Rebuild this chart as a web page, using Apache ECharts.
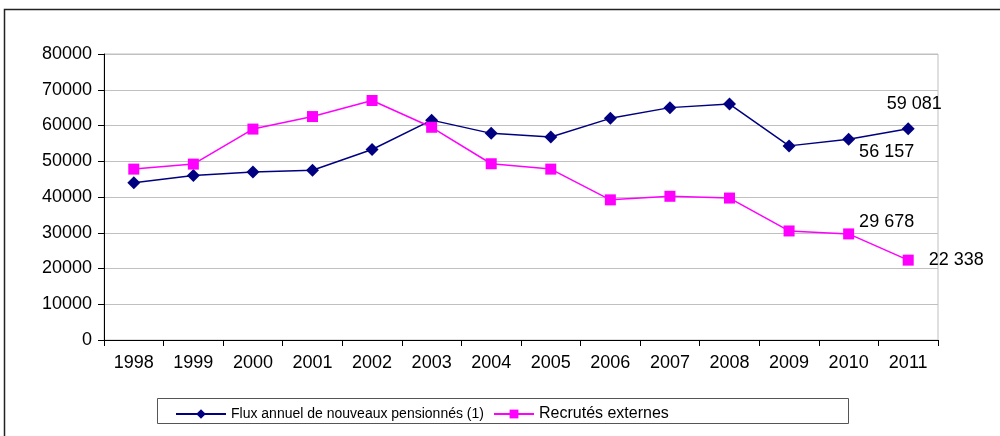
<!DOCTYPE html>
<html>
<head>
<meta charset="utf-8">
<script src="https://cdn.jsdelivr.net/npm/echarts@6/dist/echarts.min.js"></script>
<style>
  html, body { margin: 0; padding: 0; background: #fff; }
  #chart { width: 1000px; height: 436px; }
</style>
</head>
<body>
<div id="chart"></div>
<script>
const years = ['1998', '1999', '2000', '2001', '2002', '2003', '2004', '2005', '2006', '2007', '2008', '2009', '2010', '2011']
const fluxPensionnes = [44000, 46000, 47000, 47500, 53300, 61500, 57800, 56800, 62000, 65000, 66000, 54300, 56157, 59081]
const recrutesExternes = [47800, 49200, 59000, 62500, 67000, 59500, 49300, 47800, 39200, 40200, 39700, 30500, 29678, 22338]
const seriesNames = ['Flux annuel de nouveaux pensionnés (1)', 'Recrutés externes']

const fmt = v => String(v).replace(/\B(?=(\d{3})+(?!\d))/g, ' ')

// étiquettes seulement sur les deux derniers points (offsets relatifs au point)
const labelled = (values, offsets) => values.map((v, i) => {
  const off = offsets[i - (values.length - 2)]
  if (!off) return v
  return {
    value: v,
    label: {
      show: true,
      position: 'inside',
      offset: off,
      formatter: p => fmt(p.value),
      fontSize: 18,
      color: '#000',
      fontFamily: 'Liberation Sans'
    }
  }
})

const chart = echarts.init(document.getElementById('chart'))

chart.setOption({
  animation: false,
  textStyle: { fontFamily: 'Liberation Sans' },
  graphic: [
    {
      type: 'rect',
      shape: { x: 4.5, y: 9.5, width: 1000, height: 440 },
      style: { fill: 'none', stroke: '#222', lineWidth: 1.5 },
      silent: true
    },
    {
      type: 'rect',
      shape: { x: 157.5, y: 398.5, width: 691, height: 25 },
      style: { fill: 'none', stroke: '#555', lineWidth: 1 },
      silent: true
    }
  ],
  grid: {
    left: 104,
    right: 62,
    top: 54,
    bottom: 96,
    show: true,
    borderColor: '#c0c0c0',
    borderWidth: 1
  },
  legend: [
    {
      top: 402,
      left: 170,
      itemWidth: 50,
      itemHeight: 12,
      textStyle: { fontSize: 14, color: '#000', fontFamily: 'Liberation Sans' },
      data: [seriesNames[0]]
    },
    {
      top: 401,
      left: 488,
      itemWidth: 40,
      itemHeight: 11,
      textStyle: { fontSize: 16, color: '#000', fontFamily: 'Liberation Sans' },
      data: [seriesNames[1]]
    }
  ],
  xAxis: {
    type: 'category',
    data: years,
    boundaryGap: true,
    axisLine: { lineStyle: { color: '#000' } },
    axisTick: { show: true, lineStyle: { color: '#000' }, length: 6 },
    axisLabel: { fontSize: 18, color: '#000', margin: 14 },
    splitLine: { show: false }
  },
  yAxis: {
    type: 'value',
    min: 0,
    max: 80000,
    interval: 10000,
    axisLine: { show: true, lineStyle: { color: '#000' } },
    axisTick: { show: true, lineStyle: { color: '#000' }, length: 6 },
    axisLabel: { fontSize: 18, color: '#000', margin: 12, formatter: v => String(v) },
    splitLine: { lineStyle: { color: '#c0c0c0' } }
  },
  series: [
    {
      name: seriesNames[0],
      type: 'line',
      data: labelled(fluxPensionnes, [[38, 13], [6, -25]]),
      symbol: 'diamond',
      symbolSize: 13,
      lineStyle: { color: '#000080', width: 1.5 },
      itemStyle: { color: '#000080' }
    },
    {
      name: seriesNames[1],
      type: 'line',
      data: labelled(recrutesExternes, [[38, -12], [48, 0]]),
      symbol: 'rect',
      symbolSize: 11,
      lineStyle: { color: '#ff00ff', width: 1.5 },
      itemStyle: { color: '#ff00ff' }
    }
  ]
})
</script>
</body>
</html>
